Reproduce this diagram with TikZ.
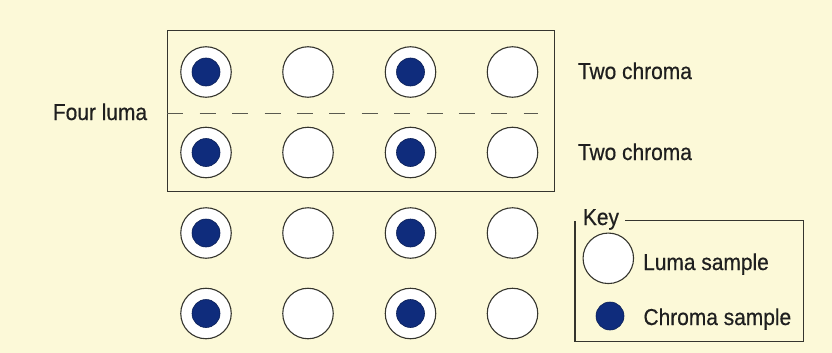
\documentclass[tikz,border=0pt]{standalone}
\usepackage{fontspec}
\setmainfont{Liberation Sans}[FakeStretch=0.91,FakeBold=0.5]
\definecolor{bg}{HTML}{FCF9D8}
\definecolor{navy}{HTML}{0F2C7C}
\definecolor{ink}{HTML}{35352E}
\definecolor{dash}{HTML}{5A5A50}
\begin{document}
\begin{tikzpicture}[x=1pt,y=-1pt,
  luma/.style={circle,draw=ink,fill=white,line width=1.1pt,minimum size=50.5pt,inner sep=0pt},
  chroma/.style={circle,fill=navy,draw=navy!70!black,line width=0.6pt,minimum size=28pt,inner sep=0pt},
  lbl/.style={anchor=base west,inner sep=0pt,font=\fontsize{23}{23}\selectfont,text=black!88},
  frame/.style={draw=ink,line width=1.4pt},
  divider/.style={draw=dash,line width=1.5pt,dash pattern=on 16pt off 16.4pt}]
\fill[bg] (0,0) rectangle (832,353);
\useasboundingbox (0,0) rectangle (832,353);
% top group box
\coordinate (tl) at (167.3,30.7);
\coordinate (br) at (554.3,191.7);
\draw[frame] (tl) rectangle (br);
\coordinate (dl) at (167.3,113.3);
\coordinate (dr) at (538,113.3);
\draw[divider] (dl) -- (dr);
% sample grid
\foreach \r/\y in {1/72,2/152.5,3/233,4/313.5} {
  \foreach \c/\x in {1/206,2/308,3/410.5,4/512.5} {
    \node[luma] (p\r\c) at (\x,\y) {};
  }
  \node[chroma] (d\r1) at (p\r1) {};
  \node[chroma] (d\r3) at (p\r3) {};
}
% labels
\node[lbl] (four) at (52.7,120) {Four luma};
\node[lbl] (two1) at (577.7,79) {Two chroma};
\node[lbl] (two2) at (577.7,160) {Two chroma};
% key
\coordinate (k1) at (625,220.7);
\coordinate (k2) at (803.3,220.7);
\coordinate (k3) at (803.3,341.7);
\coordinate (k4) at (575,341.7);
\coordinate (k5) at (575,220.7);
\draw[frame] (k1) -- (k2) -- (k3) -- (k4) -- (k5);
\node[lbl] (key) at (582.7,225) {Key};
\node[luma] (kl) at (608.3,258.3) {};
\node[chroma] (kc) at (610,316) {};
\node[lbl] (kltxt) at (643,270) {Luma sample};
\node[lbl] (kctxt) at (643.3,325) {Chroma sample};
\end{tikzpicture}
\end{document}
